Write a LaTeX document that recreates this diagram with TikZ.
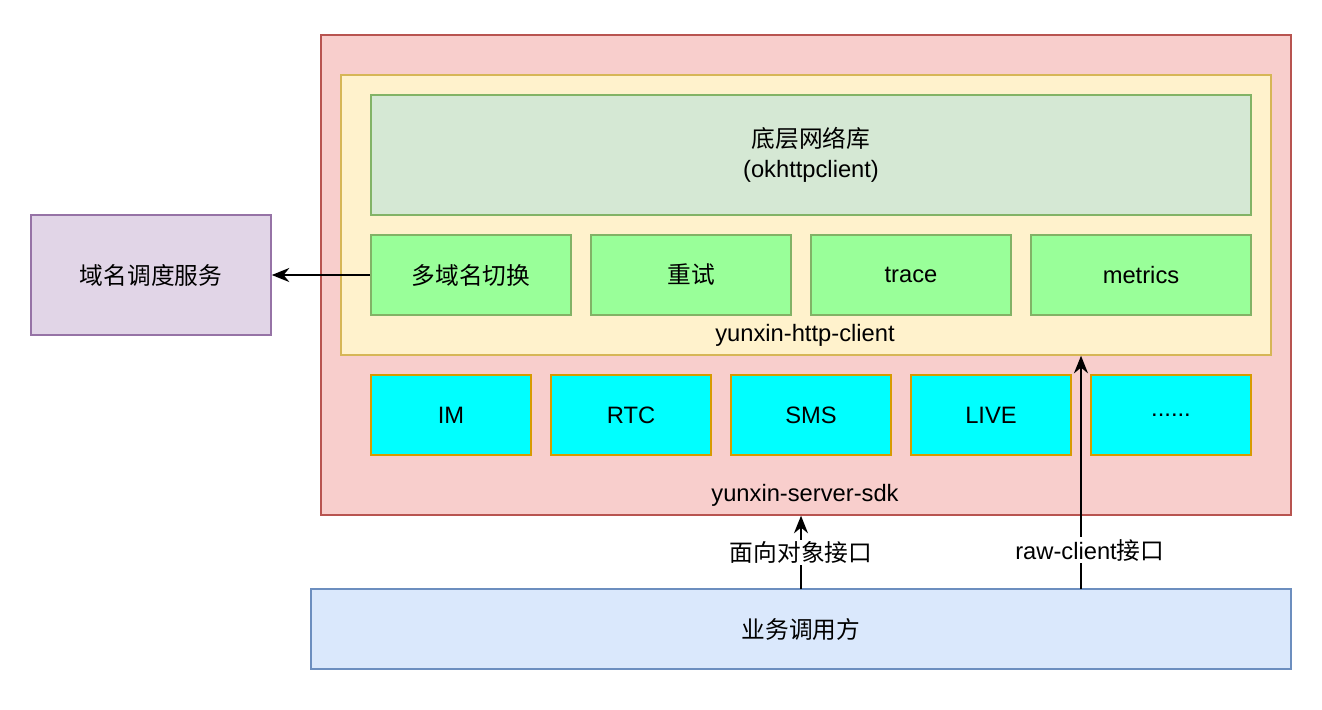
\documentclass[tikz,border=0pt]{standalone}
\usepackage{fontspec}
\setmainfont{Liberation Sans}
\newfontfamily\cjk{Noto Sans CJK SC}
\usetikzlibrary{arrows.meta}

\definecolor{redfill}{HTML}{F8CECC}
\definecolor{redline}{HTML}{B85450}
\definecolor{yelfill}{HTML}{FFF2CC}
\definecolor{yelline}{HTML}{D6B656}
\definecolor{grnfill}{HTML}{D5E8D4}
\definecolor{grnline}{HTML}{82B366}
\definecolor{litegrn}{HTML}{99FF99}
\definecolor{aquafill}{HTML}{00FFFF}
\definecolor{orgline}{HTML}{D79B00}
\definecolor{purfill}{HTML}{E1D5E7}
\definecolor{purline}{HTML}{9673A6}
\definecolor{blufill}{HTML}{DAE8FC}
\definecolor{bluline}{HTML}{6C8EBF}

\tikzset{
  box/.style={draw, line width=0.9pt, inner sep=0pt, align=center},
  featbox/.style={box, fill=litegrn, draw=grnline, minimum height=1.6cm},
  modbox/.style={box, fill=aquafill, draw=orgline, minimum width=3.2cm, minimum height=1.6cm},
  call/.style={line width=0.9pt, -{Stealth[length=10pt,width=8pt]}},
}

\begin{document}
\begin{tikzpicture}[x=0.02cm,y=-0.02cm,font=\fontsize{13.5}{17}\selectfont]
\useasboundingbox (0,0) rectangle (1322,710);

% containers
\node[box, fill=redfill, draw=redline, minimum width=19.4cm, minimum height=9.6cm] (sdk) at (806,275) {};
\node[box, fill=yelfill, draw=yelline, minimum width=18.6cm, minimum height=5.6cm] (http) at (806,215) {};
\node (sdklabel) at (805,495) {yunxin-server-sdk};
\node (httplabel) at (805,335) {yunxin-http-client};

% network library
\node[box, fill=grnfill, draw=grnline, minimum width=17.6cm, minimum height=2.4cm] (netlib) at (811,155) {{\cjk 底层网络库}\\(okhttpclient)};

% http client features
\node[featbox, minimum width=4cm] (multidomain) at (471,275) {\cjk 多域名切换};
\node[featbox, minimum width=4cm] (retry) at (691,275) {\cjk 重试};
\node[featbox, minimum width=4cm] (trace) at (911,275) {trace};
\node[featbox, minimum width=4.4cm] (metrics) at (1141,275) {metrics};

% sdk modules
\node[modbox] (im) at (451,415) {IM};
\node[modbox] (rtc) at (631,415) {RTC};
\node[modbox] (sms) at (811,415) {SMS};
\node[modbox] (live) at (991,415) {LIVE};
\node[modbox] (more) at (1171,415) {......};

% outside
\node[box, fill=purfill, draw=purline, minimum width=4.8cm, minimum height=2.4cm] (dispatch) at (151,275) {\cjk 域名调度服务};
\node[box, fill=blufill, draw=bluline, minimum width=19.6cm, minimum height=1.6cm] (caller) at (801,629) {\cjk 业务调用方};

% connectors
\draw[call] (multidomain) -- (dispatch);
\coordinate (oosrc) at (801,589);
\draw[call] (oosrc) -- (oosrc |- sdk.south)
  node[midway, fill=white, inner sep=1pt] {\cjk 面向对象接口};
\coordinate (rawsrc) at (1081,589);
\draw[call] (rawsrc) -- (rawsrc |- http.south)
  node[pos=0.167, fill=white, inner sep=1pt, xshift=5pt] {raw-client{\cjk 接口}};
\end{tikzpicture}
\end{document}
